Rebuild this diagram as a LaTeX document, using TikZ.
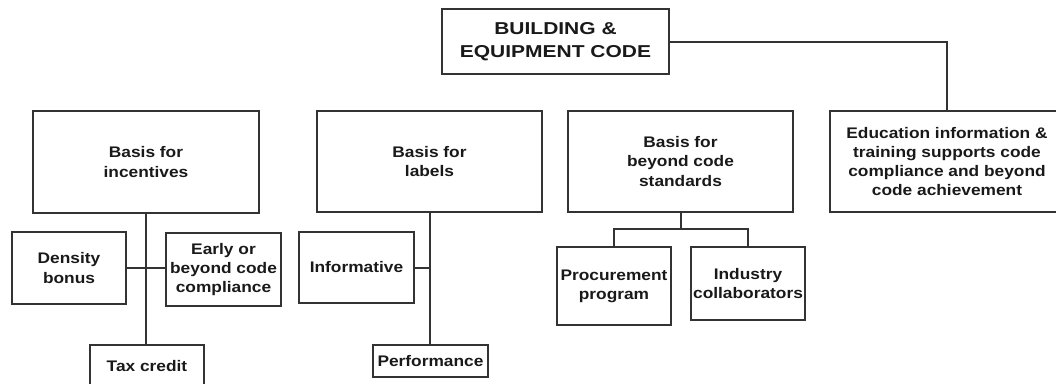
\documentclass[tikz,border=0pt]{standalone}
\usepackage{fontspec}
\setmainfont{Liberation Sans}
\newfontfamily\bodyfont[FakeStretch=1.13]{Liberation Sans}
\newfontfamily\headfont[FakeStretch=1.22]{Liberation Sans}
\begin{document}
\begin{tikzpicture}[x=0.75pt,y=-0.75pt,
  ink/.style={draw=black!80, line width=1.5pt},
  box/.style 2 args={ink, rectangle, inner sep=0pt, align=center,
    minimum width=#1*0.75pt, minimum height=#2*0.75pt,
    text=black!90, font=\bodyfont\bfseries\fontsize{11.5}{14.3}\selectfont},
  titlebox/.style 2 args={box={#1}{#2}, font=\headfont\bfseries\fontsize{12.9}{17}\selectfont},
  link/.style={ink}]
\useasboundingbox (0,0) rectangle (1056,383);
\clip (0,0) rectangle (1056,383);

% top of the hierarchy
\node[titlebox={227}{65}] (top) at (555.5,41.5) {BUILDING \&\\EQUIPMENT CODE};

% second level
\node[box={226}{102}] (inc) at (146,162) {Basis for\\incentives};
\node[box={225}{101}] (lab) at (429.5,161.5) {Basis for\\labels};
\node[box={225}{101}] (bey) at (680.5,161.5) {Basis for\\beyond code\\standards};
\node[box={234}{101}] (edu) at (947,161.5) {Education information \&\\training supports code\\compliance and beyond\\code achievement};

% incentives
\node[box={114}{72}] (dens) at (69,268) {Density\\bonus};
\node[box={115}{73}] (early) at (223.5,269.5) {Early or\\beyond code\\compliance};
\node[box={114}{42}] (tax) at (147,366) {Tax credit};

% labels
\node[box={115}{71}] (info) at (356.5,267.5) {Informative};
\node[box={115}{32}] (perf) at (430.5,361) {Performance};

% beyond code standards
\node[box={114}{78}] (proc) at (614,286) {Procurement\\program};
\node[box={114}{73}] (ind) at (748,283.5) {Industry\\collaborators};

% connectors
\draw[link] (top.east) -| (edu.north);
\draw[link] (inc.south) -- (inc.south |- tax.north);
\draw[link] (dens.east) -- (dens.east -| early.west);
\draw[link] (lab.south) -- (lab.south |- perf.north);
\draw[link] (info.east) -- (info.east -| lab.south);
\coordinate (bj) at (680.5,229);
\draw[link] (bey.south) -- (bj);
\draw[link] (proc.north) |- (bj) -| (ind.north);
\end{tikzpicture}
\end{document}
